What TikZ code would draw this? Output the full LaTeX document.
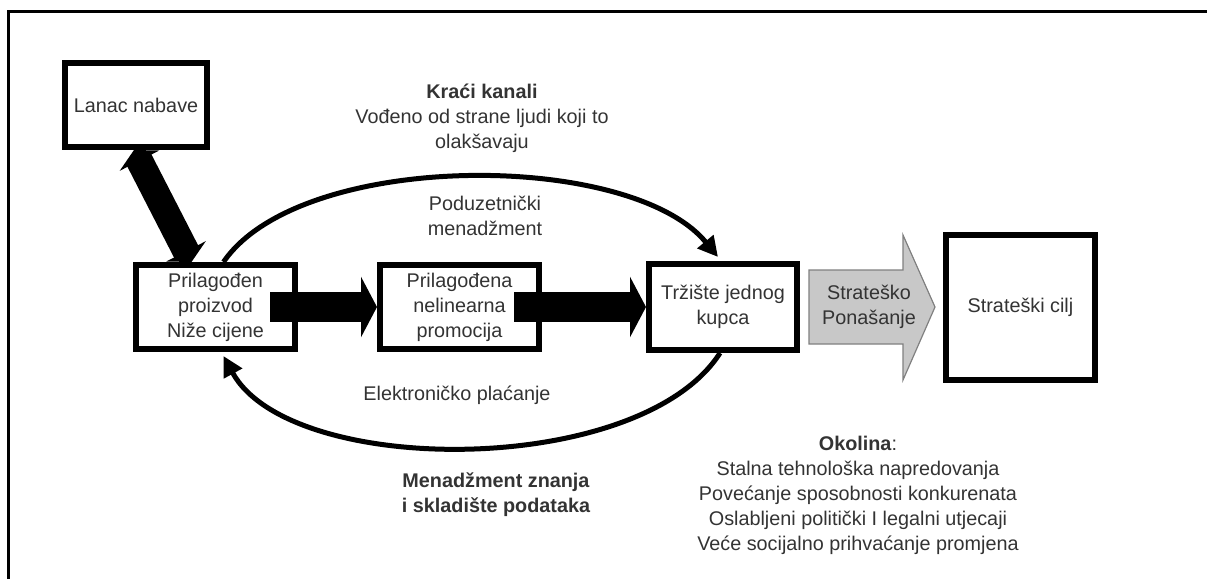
\documentclass[tikz,border=0pt]{standalone}
\usepackage{fontspec}
\setmainfont{Liberation Sans}
\usetikzlibrary{arrows.meta}

\begin{document}
\begin{tikzpicture}[x=0.5pt, y=-0.5pt]
    \definecolor{textColour}{HTML}{333333}
    \definecolor{fillColourBeh}{HTML}{C8C8C8}
    \definecolor{borderColourBeh}{HTML}{808080}

    \tikzset{
        box/.style={draw=black, line width=3pt, fill=white, align=center, text=textColour,
            font=\fontsize{9.9}{12.5}\selectfont, inner sep=0pt},
        note/.style={align=center, text=textColour, font=\fontsize{9.9}{12.5}\selectfont},
        fatArrow/.style={line width=15pt, -{Triangle[length=8pt, width=30pt]}},
        loopArrow/.style={line width=2.5pt, -{Triangle[length=10pt, width=10pt]}}
    }

    \useasboundingbox (0,0) rectangle (1207,579);

    % Outer frame
    \draw[line width=1.5pt] (8,600) -- (8,11) -- (1220,11);

    % Boxes
    \node[box, minimum width=71pt, minimum height=42pt] (supply) at (136,105) {Lanac nabave};
    \node[box, minimum width=79.5pt, minimum height=42pt] (product) at (215.5,307) {Prilagođen\\proizvod\\Niže cijene};
    \node[box, minimum width=79.5pt, minimum height=42pt] (promo) at (459.5,307) {Prilagođena\\nelinearna\\promocija};
    \node[box, minimum width=74pt, minimum height=43pt] (market) at (723,307) {Tržište jednog\\kupca};
    \node[box, minimum width=74.5pt, minimum height=72.5pt] (goal) at (1020.5,307.5) {Strateški cilj};

    % Fat arrows between boxes
    \draw[fatArrow] ([xshift=-14pt]product.east) -- (promo.west);
    \draw[fatArrow] ([xshift=-14pt]promo.east) -- (market.west);

    % Supply chain link
    \draw[line width=13.5pt, {Triangle[length=6pt, width=22pt]}-{Triangle[length=6pt, width=22pt]}]
        ([xshift=-1pt]supply.south) -- ([xshift=-12pt]product.north);

    % Loops
    \draw[loopArrow] ([xshift=4pt]product.north) .. controls (300,150) and (630,150) .. ([xshift=-2.5pt, yshift=2pt]market.north);
    \draw[loopArrow] ([xshift=-1.5pt]market.south) .. controls (640,478) and (290,478) .. ([xshift=4pt, yshift=-2pt]product.south);

    % Strategic behaviour arrow
    \filldraw[fill=fillColourBeh, draw=borderColourBeh, line width=0.6pt]
        (809,270) -- (903,270) -- (903,235) -- (935,307) -- (903,380) -- (903,344) -- (809,344) -- cycle;
    \node[note] (behaviour) at (869,307) {Strateško\\Ponašanje};

    % Labels
    \node[note] (channels) at (482,118) {\textbf{Kraći kanali}\\Vođeno od strane ljudi koji to\\olakšavaju};
    \node[note] (entre) at (485,215.5) {Poduzetnički\\menadžment};
    \node[note] (payment) at (457,395) {Elektroničko plaćanje};
    \node[note, font=\fontsize{9.9}{12.5}\selectfont\bfseries] (knowledge) at (496,494.5) {Menadžment znanja\\i skladište podataka};
    \node[note] (environment) at (858,495) {\textbf{Okolina}:\\Stalna tehnološka napredovanja\\Povećanje sposobnosti konkurenata\\Oslabljeni politički I legalni utjecaji\\Veće socijalno prihvaćanje promjena};

\end{tikzpicture}
\end{document}
